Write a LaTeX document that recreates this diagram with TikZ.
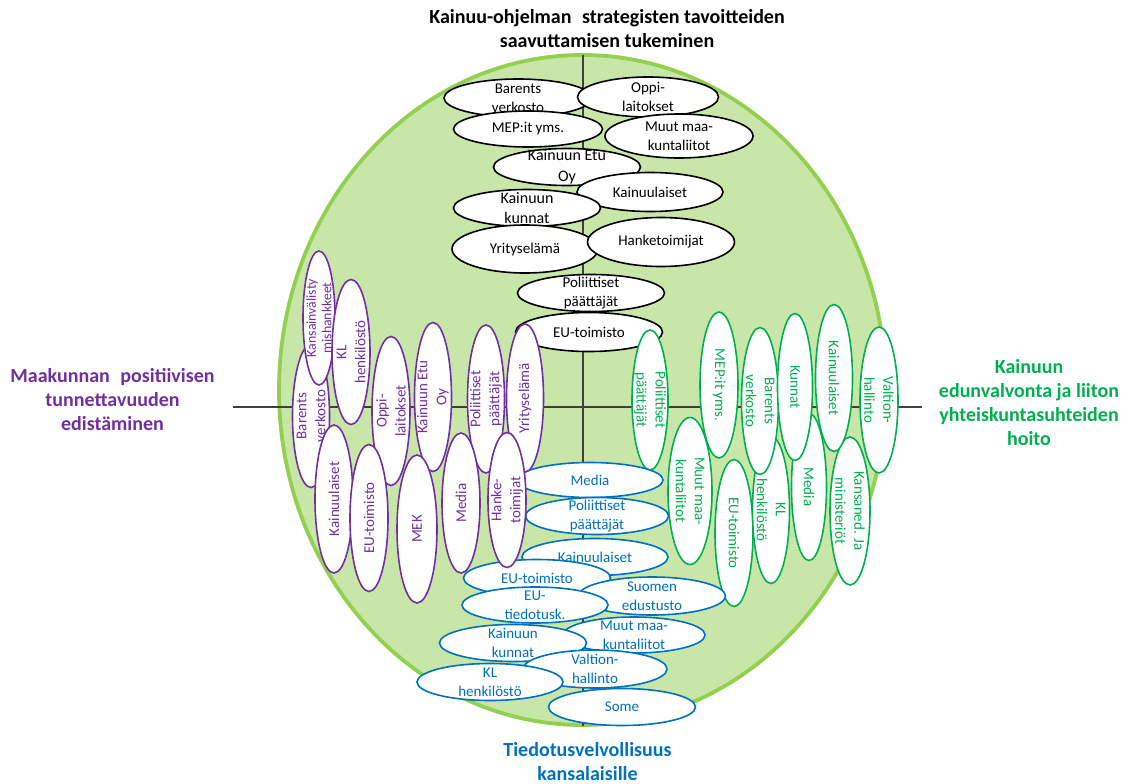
\documentclass[tikz,border=0pt]{standalone}
\usepackage{fontspec}
\setmainfont{Carlito}
\usetikzlibrary{shapes.geometric}

\definecolor{ringline}{HTML}{92D050}
\definecolor{ringfill}{HTML}{C8E6A8}
\definecolor{vio}{HTML}{7030A0}
\definecolor{grn}{HTML}{00B050}
\definecolor{blu}{HTML}{0070C0}
\definecolor{axisgray}{HTML}{404040}

\tikzset{
  ring/.style={ellipse, draw=ringline, fill=ringfill, line width=3.8pt, inner sep=0pt},
  axisline/.style={draw=axisgray, line width=1.1pt},
  ttl/.style={align=center, inner sep=0pt, font=\fontsize{20}{24}\selectfont\bfseries},
  baseoval/.style={ellipse, fill=white, line width=1.6pt, inner sep=0pt},
  basetext/.style={align=center, inner sep=0pt, font=\fontsize{15}{19}\selectfont},
  blkoval/.style={baseoval, draw=black},
  blkoval text/.style={basetext, text=black},
  grnoval/.style={baseoval, draw=grn},
  grnoval text/.style={basetext, text=grn, rotate=-90},
  bluoval/.style={baseoval, draw=blu},
  bluoval text/.style={basetext, text=blu},
  viooval/.style={baseoval, draw=vio},
  viooval text/.style={basetext, text=vio, rotate=90},
  bigtext/.style={font=\fontsize{16}{20.5}\selectfont},
  smalltext/.style={font=\fontsize{13.8}{15.5}\selectfont},
}

% name, kind, x, y, width, height, extra text options, text
\newcommand\bubble[8]{%
  \node[#2, minimum width=#5pt, minimum height=#6pt] (#1) at (#3,#4) {};
  \node[#2 text, #7] (#1-t) at (#1.center) {#8};
}

\begin{document}
\begin{tikzpicture}[x=1pt, y=-1pt]
\useasboundingbox (0,0) rectangle (1135,784);

% background ring
\node[ring, minimum width=607pt, minimum height=670pt] (ring) at (582.5,390) {};

% cross axes
\coordinate (vtop) at (583,55);
\coordinate (vbot) at (583,726);
\coordinate (hleft) at (233,407);
\coordinate (hright) at (922,407);
\draw[axisline] (vtop) -- (vbot);
\draw[axisline] (hleft) -- (hright);

% headings
\node[ttl, text=black] (ttop) at (607,29) {Kainuu-ohjelman\hspace{0.3em} strategisten tavoitteiden\\saavuttamisen tukeminen};
\node[ttl, text=vio] (tleft) at (112.5,399.5) {Maakunnan\hspace{0.3em} positiivisen\\tunnettavuuden\\edistäminen};
\node[ttl, text=grn] (tright) at (1029,403) {Kainuun\\edunvalvonta ja liiton\\yhteiskuntasuhteiden\\hoito};
\node[ttl, text=blu] (tbottom) at (587.5,761.5) {Tiedotusvelvollisuus\\kansalaisille};

% upper quadrant: strategic goals
\bubble{k1}{blkoval}{518}{98}{148}{38}{}{Barents\\verkosto}
\bubble{k2}{blkoval}{648}{97}{141}{40}{}{Oppi-\\laitokset}
\bubble{k3}{blkoval}{528}{129}{149}{36}{}{MEP:it yms.}
\bubble{k4}{blkoval}{679}{136}{148}{44}{}{Muut maa-\\kuntaliitot}
\bubble{k5}{blkoval}{567}{167}{147}{37}{bigtext}{Kainuun Etu\\Oy}
\bubble{k6}{blkoval}{650}{192}{146}{39}{}{Kainuulaiset}
\bubble{k7}{blkoval}{527}{208}{147}{37}{bigtext}{Kainuun\\kunnat}
\bubble{k8}{blkoval}{525}{249}{146}{48}{}{Yrityselämä}
\bubble{k9}{blkoval}{661}{242}{147}{49}{}{Hanketoimijat}
\bubble{k10}{blkoval}{591}{293}{147}{37}{}{Poliittiset\\päättäjät}
\bubble{k11}{blkoval}{589}{332}{147}{39}{}{EU-toimisto}

% right quadrant: advocacy (lower row first)
\bubble{g7}{grnoval}{690}{491}{44}{147}{}{Muut maa-\\kuntaliitot}
\bubble{g8}{grnoval}{734}{533}{38}{147}{}{EU-toimisto}
\bubble{g9}{grnoval}{771}{510}{37}{147}{}{KL\\henkilöstö}
\bubble{g10}{grnoval}{809}{487}{35}{147}{}{Media}
\bubble{g11}{grnoval}{850}{511}{40}{148}{}{Kansaned. Ja\\ministeriöt}
\bubble{g1}{grnoval}{650}{400}{36}{140}{}{Poliittiset\\päättäjät}
\bubble{g2}{grnoval}{719}{385}{38}{146}{}{MEP:it yms.}
\bubble{g3}{grnoval}{760}{401}{37}{147}{}{Barents\\verkosto}
\bubble{g4}{grnoval}{795}{387}{35}{147}{}{Kunnat}
\bubble{g5}{grnoval}{834}{378}{37}{147}{}{Kainuulaiset}
\bubble{g6}{grnoval}{879}{400}{38}{146}{}{Valtion-\\hallinto}

% lower quadrant: public information
\bubble{b1}{bluoval}{590}{480}{146}{35}{}{Media}
\bubble{b2}{bluoval}{597}{516}{143}{37}{}{Poliittiset\\päättäjät}
\bubble{b3}{bluoval}{595}{557}{146}{37}{}{Kainuulaiset}
\bubble{b4}{bluoval}{537}{578}{147}{37}{}{EU-toimisto}
\bubble{b5}{bluoval}{652}{596}{147}{38}{}{Suomen\\edustusto}
\bubble{b6}{bluoval}{535}{605}{146}{36}{}{EU-\\tiedotusk.}
\bubble{b7}{bluoval}{634}{635}{142}{36}{}{Muut maa-\\kuntaliitot}
\bubble{b8}{bluoval}{513}{643}{147}{37}{}{Kainuun\\kunnat}
\bubble{b9}{bluoval}{595}{669}{144}{38}{}{Valtion-\\hallinto}
\bubble{b10}{bluoval}{490}{682}{146}{37}{}{KL\\henkilöstö}
\bubble{b11}{bluoval}{622}{707}{147}{37}{}{Some}

% left quadrant: regional image (upper row first)
\bubble{p3}{viooval}{311}{416}{37}{143}{}{Barents\\verkosto}
\bubble{p1}{viooval}{319}{318}{32}{134}{smalltext}{Kansainvälisty\\mishankkeet}
\bubble{p2}{viooval}{351}{352}{38}{145}{}{KL\\henkilöstö}
\bubble{p6}{viooval}{391}{411}{38}{149}{}{Oppi-\\laitokset}
\bubble{p7}{viooval}{433}{397}{37}{149}{}{Kainuun Etu\\Oy}
\bubble{p9}{viooval}{486}{399}{37}{148}{}{Poliittiset\\päättäjät}
\bubble{p11}{viooval}{525}{398}{37}{148}{}{Yrityselämä}
\bubble{p4}{viooval}{334}{499}{38}{148}{}{Kainuulaiset}
\bubble{p5}{viooval}{369}{518}{38}{147}{}{EU-toimisto}
\bubble{p8}{viooval}{417}{529}{40}{148}{}{MEK}
\bubble{p10}{viooval}{461}{503}{38}{140}{}{Media}
\bubble{p12}{viooval}{507}{500}{38}{135}{}{Hanke-\\toimijat}
\end{tikzpicture}
\end{document}
